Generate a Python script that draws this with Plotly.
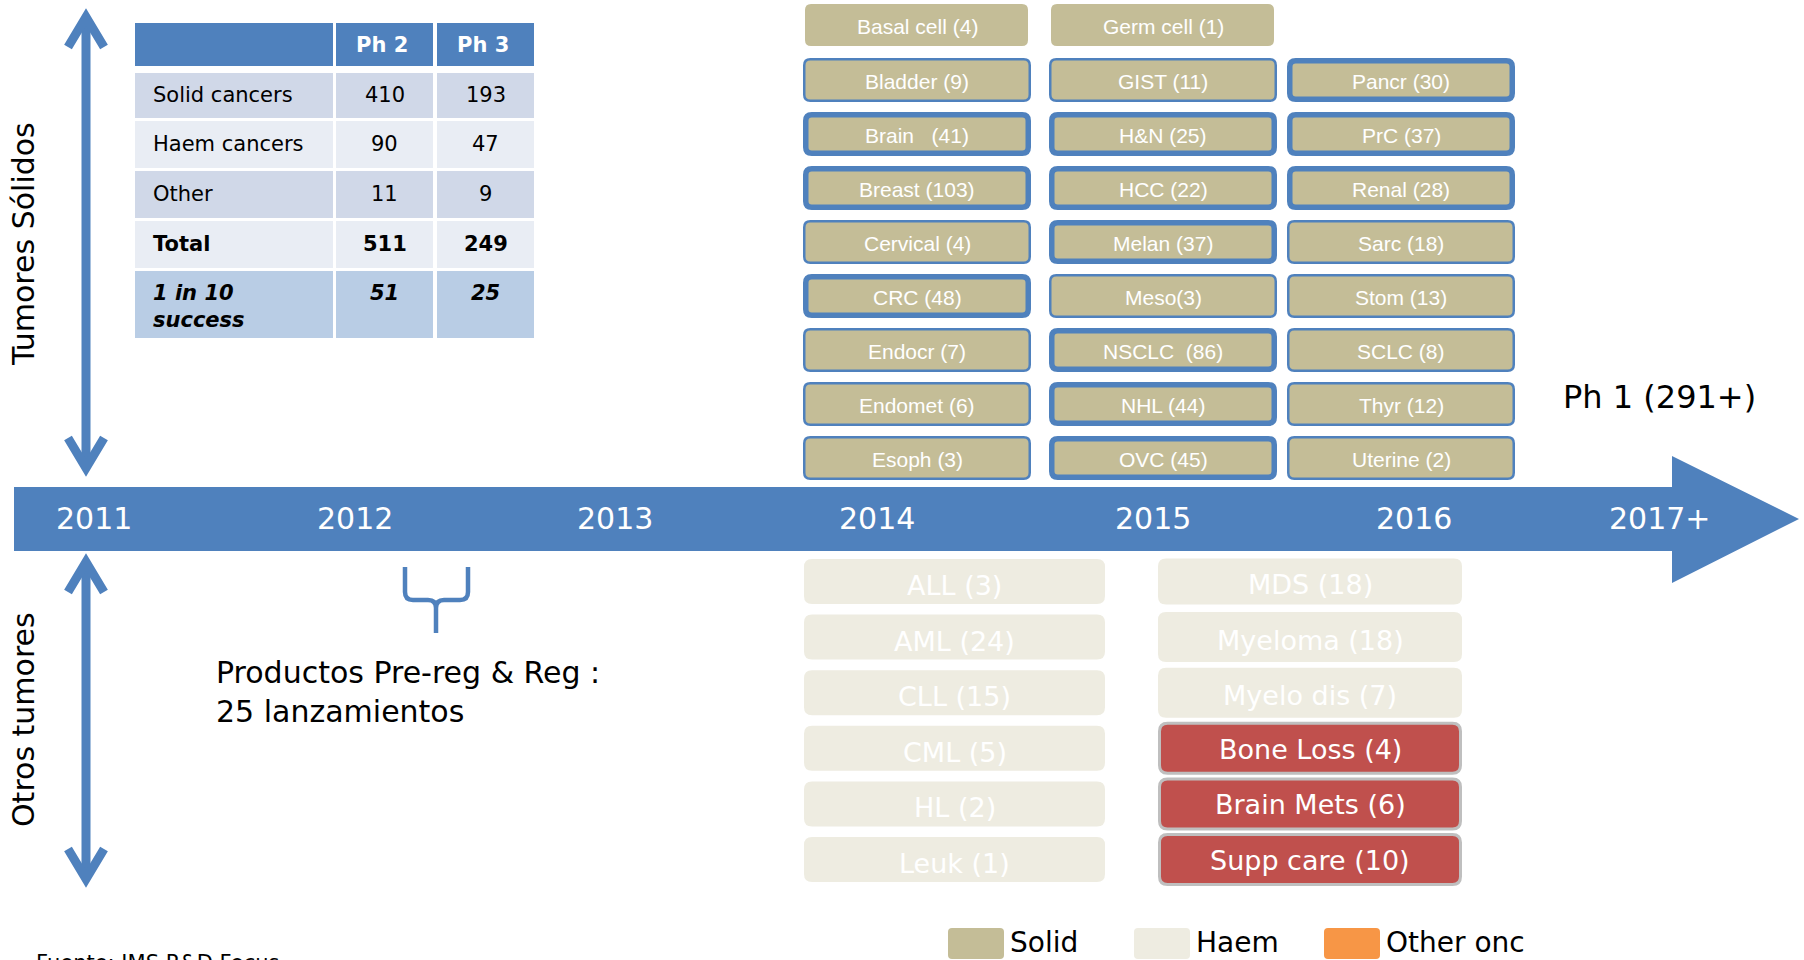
import plotly.graph_objects as go

# ---------------- data ----------------
years = ["2011", "2012", "2013", "2014", "2015", "2016", "2017+"]

table_header = ["", "Ph 2", "Ph 3"]
table_rows = ["Solid cancers", "Haem cancers", "Other", "Total", "1 in 10<br>success"]
ph2_counts = [410, 90, 11, 511, 51]
ph3_counts = [193, 47, 9, 249, 25]

# names carry their own separator before the count
solid_col1_names = ["Basal cell ", "Bladder ", "Brain\u00a0\u00a0\u00a0", "Breast ", "Cervical ",
                    "CRC ", "Endocr ", "Endomet ", "Esoph "]
solid_col1_counts = [4, 9, 41, 103, 4, 48, 7, 6, 3]
solid_col2_names = ["Germ cell ", "GIST ", "H&N ", "HCC ", "Melan ", "Meso", "NSCLC\u00a0\u00a0",
                    "NHL ", "OVC "]
solid_col2_counts = [1, 11, 25, 22, 37, 3, 86, 44, 45]
solid_col3_names = ["Pancr ", "PrC ", "Renal ", "Sarc ", "Stom ", "SCLC ", "Thyr ", "Uterine "]
solid_col3_counts = [30, 37, 28, 18, 13, 8, 12, 2]

haem_col1_names = ["ALL", "AML", "CLL", "CML", "HL", "Leuk"]
haem_col1_counts = [3, 24, 15, 5, 2, 1]
haem_col2_names = ["MDS", "Myeloma", "Myelo dis"]
haem_col2_counts = [18, 18, 7]
other_names = ["Bone Loss", "Brain Mets", "Supp care"]
other_counts = [4, 6, 10]

ph1_total = "291+"
prereg_launches = 25
legend_labels = ["Solid", "Haem", "Other onc"]
source_text = "Fuente: IMS R&D Focus"

# ---------------- styles / layout constants ----------------
# border style per solid box: 0 none, 1 thin, 2 thick
solid_col1_border = [0, 1, 2, 2, 1, 2, 1, 1, 1]
solid_col2_border = [0, 1, 2, 2, 2, 1, 2, 2, 2]
solid_col3_border = [2, 2, 2, 1, 1, 1, 1, 1]
BORDER_W = {0: 0, 1: 2.5, 2: 5.5}

BLUE = "#4F81BD"
SOLID = "#C4BD97"
HAEM = "#EEECE1"
OTHER_LEG = "#F79646"
RED = "#C0504D"
VERD = "Verdana, DejaVu Sans, sans-serif"
ARIAL = "Arial, Liberation Sans, sans-serif"

W, H = 1804, 960
YEAR_X = [94, 355, 615, 877, 1153, 1414, 1659]

shapes = []
annotations = []


def rrect(x0, y0, x1, y1, r):
    return (f"M{x0 + r},{y0} L{x1 - r},{y0} Q{x1},{y0} {x1},{y0 + r} L{x1},{y1 - r} "
            f"Q{x1},{y1} {x1 - r},{y1} L{x0 + r},{y1} Q{x0},{y1} {x0},{y1 - r} "
            f"L{x0},{y0 + r} Q{x0},{y0} {x0 + r},{y0} Z")


def add_box(x0, x1, yc, h, fill, lw=0, lcol=BLUE, r=6):
    ins = lw / 2.0
    shapes.append(dict(type="path", xref="x", yref="y", layer="above",
                       path=rrect(x0 + ins, yc - h / 2 + ins, x1 - ins, yc + h / 2 - ins, r),
                       fillcolor=fill, line=dict(color=lcol, width=lw)))


def add_text(x, y, text, size, color="black", family=VERD, xanchor="center",
             yanchor="middle", angle=0, align="center"):
    annotations.append(dict(x=x, y=y, xref="x", yref="y", text=text, showarrow=False,
                            xanchor=xanchor, yanchor=yanchor, textangle=angle, align=align,
                            font=dict(size=size, color=color, family=family)))


# ---------------- table ----------------
col_x = [(135, 333), (336, 433), (437, 534)]
row_y = [(23, 66), (73, 118), (121, 168), (171, 218), (221, 268), (271, 338)]
row_fill = ["#D0D8E8", "#E9EDF4", "#D0D8E8", "#E9EDF4", "#B9CDE5"]

for (x0, x1) in col_x:
    shapes.append(dict(type="rect", xref="x", yref="y", x0=x0, x1=x1, y0=row_y[0][0],
                       y1=row_y[0][1], fillcolor=BLUE, line=dict(width=0)))
for c, h in enumerate(table_header):
    if h:
        cx = (col_x[c][0] + col_x[c][1]) / 2 - 3
        add_text(cx, (row_y[0][0] + row_y[0][1]) / 2, f"<b>{h}</b>", 21, "white")

for r, label in enumerate(table_rows):
    y0, y1 = row_y[r + 1]
    for (x0, x1) in col_x:
        shapes.append(dict(type="rect", xref="x", yref="y", x0=x0, x1=x1, y0=y0, y1=y1,
                           fillcolor=row_fill[r], line=dict(width=0)))
    vals = [ph2_counts[r], ph3_counts[r]]
    if r == 3:
        lab, v = f"<b>{label}</b>", [f"<b>{a}</b>" for a in vals]
    elif r == 4:
        lab, v = f"<b><i>{label}</i></b>", [f"<b><i>{a}</i></b>" for a in vals]
    else:
        lab, v = label, [str(a) for a in vals]
    if r == 4:
        add_text(151, 306, lab, 21, xanchor="left", align="left")
        for c in range(2):
            add_text((col_x[c + 1][0] + col_x[c + 1][1]) / 2, 293, v[c], 21)
    else:
        yc = (y0 + y1) / 2 - 1
        add_text(151, yc, lab, 21, xanchor="left", align="left")
        for c in range(2):
            add_text((col_x[c + 1][0] + col_x[c + 1][1]) / 2, yc, v[c], 21)

# ---------------- vertical arrows ----------------
AX = 86
AW = 9


def chevron(vx, vy, dy):
    shapes.append(dict(type="path", xref="x", yref="y",
                       path=f"M{vx - 18},{vy + dy} L{vx},{vy} L{vx + 18},{vy + dy}",
                       fillcolor="rgba(0,0,0,0)", line=dict(color=BLUE, width=AW)))


for (ytop, ybot) in [(17, 468), (562, 879)]:
    shapes.append(dict(type="line", xref="x", yref="y", x0=AX, x1=AX, y0=ytop, y1=ybot,
                       line=dict(color=BLUE, width=AW)))
    chevron(AX, ytop, 30)
    chevron(AX, ybot, -30)

add_text(23, 244, "Tumores Sólidos", 30, angle=-90)
add_text(23, 720, "Otros tumores", 30, angle=-90)

# ---------------- timeline ----------------
shapes.append(dict(type="path", xref="x", yref="y", layer="below",
                   path="M14,487 L1672,487 L1672,456 L1799,519 L1672,583 L1672,551 L14,551 Z",
                   fillcolor=BLUE, line=dict(width=0)))
for yx, yr in zip(YEAR_X, years):
    add_text(yx, 518, yr, 30, "white")

# ---------------- solid boxes ----------------
SOLID_X = [(803, 1031), (1049, 1277), (1287, 1515)]
solid_cols = [
    (solid_col1_names, solid_col1_counts, solid_col1_border, 0),
    (solid_col2_names, solid_col2_counts, solid_col2_border, 0),
    (solid_col3_names, solid_col3_counts, solid_col3_border, 1),
]
for ci, (names, counts, borders, start) in enumerate(solid_cols):
    x0, x1 = SOLID_X[ci]
    for i, (nm, ct, b) in enumerate(zip(names, counts, borders)):
        row = start + i
        yc = 80 + 54 * (row - 1) if row > 0 else 25
        h = 44 if b else 42
        xa, xb = (x0, x1) if b else (x0 + 2, x1 - 3)
        add_box(xa, xb, yc, h, SOLID, BORDER_W[b], BLUE, r=6)
        add_text((x0 + x1) / 2, yc + 1, f"{nm}({ct})", 21, "white", ARIAL)

add_text(1659, 397, f"Ph 1 ({ph1_total})", 32)

# ---------------- haem / other boxes ----------------
HAEM_X = [(804, 1105), (1158, 1462)]
for i, (nm, ct) in enumerate(zip(haem_col1_names, haem_col1_counts)):
    yc = 581.5 + 55.6 * i
    add_box(HAEM_X[0][0], HAEM_X[0][1], yc, 45, HAEM, 0, r=8)
    add_text((HAEM_X[0][0] + HAEM_X[0][1]) / 2, yc + 4, f"{nm} ({ct})", 27, "white")
for i, (nm, ct) in enumerate(zip(haem_col2_names, haem_col2_counts)):
    yc = 581.5 + 55.6 * i
    add_box(HAEM_X[1][0], HAEM_X[1][1], yc, 46 if i == 0 else 50, HAEM, 0, r=8)
    add_text((HAEM_X[1][0] + HAEM_X[1][1]) / 2, yc + 3, f"{nm} ({ct})", 27, "white")
for j, (nm, ct) in enumerate(zip(other_names, other_counts)):
    i = len(haem_col2_names) + j
    yc = 581.5 + 55.6 * i
    add_box(HAEM_X[1][0], HAEM_X[1][1], yc, 53, RED, 3, "#BFBFBF", r=8)
    add_text((HAEM_X[1][0] + HAEM_X[1][1]) / 2, yc + 1, f"{nm} ({ct})", 27, "white")

# ---------------- bracket + launches text ----------------
shapes.append(dict(type="path", xref="x", yref="y", fillcolor="rgba(0,0,0,0)",
                   line=dict(color=BLUE, width=4.5),
                   path=("M405,567 L405,592 Q405,600 413,600 L428,600 Q436,600 436,608 L436,633 "
                         "M436,608 Q436,600 444,600 L460,600 Q468,600 468,592 L468,567")))
add_text(214, 692, f"Productos Pre-reg & Reg :<br>{prereg_launches} lanzamientos", 30,
         xanchor="left", align="left")

# ---------------- legend ----------------
LEG_SQ = [948, 1134, 1324]
for lx, lab, col in zip(LEG_SQ, legend_labels, [SOLID, HAEM, OTHER_LEG]):
    add_box(lx, lx + 56, 943.5, 31, col, 0, r=4)
    add_text(lx + 60, 942, lab, 28, "black", xanchor="left")

# source note, partly cut at the bottom edge as in the original
annotations.append(dict(x=34 / W, y=-3 / H, xref="paper", yref="paper", text=source_text,
                        showarrow=False, xanchor="left", yanchor="middle",
                        font=dict(size=21, color="black", family=VERD)))

# ---------------- figure ----------------
fig = go.Figure(go.Scatter(x=[0, W], y=[0, H], mode="markers",
                           marker=dict(opacity=0), hoverinfo="skip", showlegend=False))
fig.update_layout(
    width=W, height=H, autosize=False,
    margin=dict(l=0, r=0, t=0, b=0, pad=0),
    paper_bgcolor="white", plot_bgcolor="white",
    xaxis=dict(range=[0, W], visible=False, fixedrange=True),
    yaxis=dict(range=[H, 0], visible=False, fixedrange=True),
    shapes=shapes, annotations=annotations, showlegend=False,
)
fig.write_html("out.html", config={"displayModeBar": False},
               post_script="document.body.style.margin='0';document.body.style.overflow='hidden';")
